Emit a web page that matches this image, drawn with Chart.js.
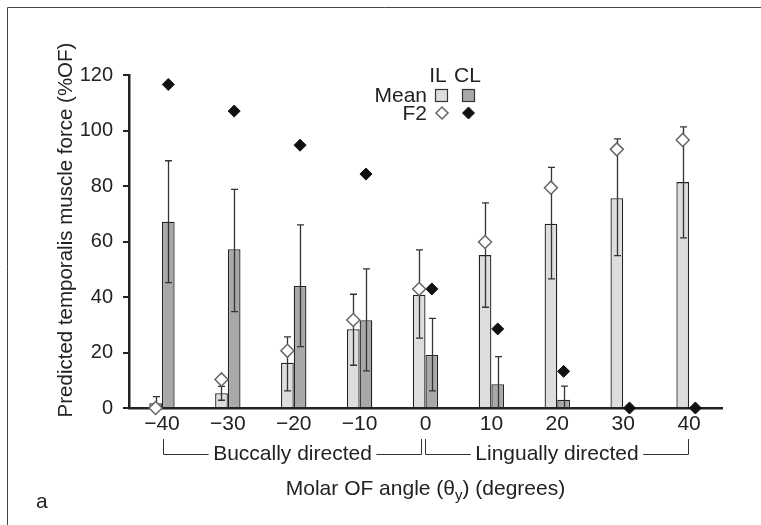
<!DOCTYPE html>
<html>
<head>
<meta charset="utf-8">
<script src="https://cdn.jsdelivr.net/npm/chart.js@4.4.1/dist/chart.umd.min.js"></script>
<style>
  html, body { margin: 0; padding: 0; background: #fff; }
  #wrap { width: 761px; height: 525px; }
  canvas { background: #fff; }
</style>
</head>
<body>
<div id="wrap"><canvas id="myChart" width="761" height="525"></canvas></div>
<script>
const angles = [-40, -30, -20, -10, 0, 10, 20, 30, 40]
const yTicks = [0, 20, 40, 60, 80, 100, 120]

// mean predicted force, ipsilateral / contralateral
const meanIL = [1.7, 5.3, 16.3, 28.4, 40.7, 55.1, 66.4, 75.6, 81.4]
const meanCL = [67.1, 57.2, 44.0, 31.6, 19.1, 8.6, 3.0, 0, 0]
// error bar ends (lo 0 = runs down to the axis, no cap)
const hiIL = [4.1, 7.8, 25.6, 41.0, 57.0, 73.9, 86.7, 97.0, 101.3]
const loIL = [0, 2.8, 6.2, 15.4, 25.2, 36.3, 46.5, 54.9, 61.3]
const hiCL = [89.1, 78.8, 66.0, 50.1, 32.3, 18.5, 7.9, null, null]
const loCL = [45.2, 34.7, 22.1, 13.4, 6.2, 0, 0, null, null]
// F2 model
const f2IL = [0, 10.3, 20.6, 31.7, 42.9, 59.8, 79.4, 93.2, 96.6]
const f2CL = [116.6, 107.0, 94.7, 84.3, 42.9, 28.5, 13.2, 0, 0]

const FONT = '"Liberation Sans", Arial, Helvetica, sans-serif'
const ink = '#222'
const fillIL = '#dcdddf'
const fillCL = '#a7a8aa'

const ctx = document.querySelector('#myChart')

const fmt = v => (v < 0 ? '\u2212' + Math.abs(v) : String(v))

function diamond(c, x, y, r, fill, stroke, lw) {
    c.beginPath()
    c.moveTo(x, y - r)
    c.lineTo(x + r, y)
    c.lineTo(x, y + r)
    c.lineTo(x - r, y)
    c.closePath()
    c.fillStyle = fill
    c.fill()
    c.lineWidth = lw
    c.strokeStyle = stroke
    c.stroke()
}

function bracket(c, x1, x2, label) {
    const yTop = 439, yBot = 454.5
    const cx = (x1 + x2) / 2
    c.font = `21px ${FONT}`
    const w = c.measureText(label).width
    c.beginPath()
    c.moveTo(x1, yTop); c.lineTo(x1, yBot); c.lineTo(cx - w / 2 - 4.5, yBot)
    c.moveTo(cx + w / 2 + 4.5, yBot); c.lineTo(x2, yBot); c.lineTo(x2, yTop)
    c.stroke()
    c.textAlign = 'center'
    c.fillText(label, cx, 460)
}

const extras = {
    id: 'extras',
    afterDatasetsUpdate(chart) {
        // sit each F2 marker on its own bar
        [[0, 2], [1, 3]].forEach(([p, b]) => {
            const bars = chart.getDatasetMeta(b).data
            chart.getDatasetMeta(p).data.forEach((pt, i) => { pt.x = bars[i].x })
        })
    },
    afterDatasetDraw(chart, args) {
        const ds = chart.data.datasets[args.index]
        if (!ds.hi) return
        const c = chart.ctx, y = chart.scales.y
        c.save()
        c.strokeStyle = '#333'
        c.lineWidth = 1.3
        args.meta.data.forEach((bar, i) => {
            if (ds.hi[i] == null) return
            const x = Math.round(bar.x) + 0.5
            const yh = y.getPixelForValue(ds.hi[i])
            const yl = y.getPixelForValue(ds.lo[i])
            c.beginPath()
            c.moveTo(x, yh); c.lineTo(x, yl)
            c.moveTo(x - 3.5, yh); c.lineTo(x + 3.5, yh)
            if (ds.lo[i] > 0) { c.moveTo(x - 3.5, yl); c.lineTo(x + 3.5, yl) }
            c.stroke()
        })
        c.restore()
    },
    afterDraw(chart) {
        const c = chart.ctx
        const area = chart.chartArea
        const xs = chart.scales.x
        c.save()

        // frame
        c.strokeStyle = '#444'
        c.lineWidth = 1
        c.beginPath()
        c.moveTo(7.5, 525); c.lineTo(7.5, 7.5); c.lineTo(761, 7.5)
        c.stroke()

        c.fillStyle = ink
        c.textBaseline = 'alphabetic'

        // legend
        c.font = `21px ${FONT}`
        c.textAlign = 'center'
        c.fillText('IL', 438, 82)
        c.fillText('CL', 467.5, 82)
        c.textAlign = 'right'
        c.fillText('Mean', 427, 101.5)
        c.fillText('F2', 427, 120)
        c.lineWidth = 1.2
        c.strokeStyle = '#333'
        c.fillStyle = fillIL
        c.fillRect(435.5, 89.5, 12, 12)
        c.strokeRect(435.5, 89.5, 12, 12)
        c.fillStyle = fillCL
        c.fillRect(462.5, 89.5, 12, 12)
        c.strokeRect(462.5, 89.5, 12, 12)
        diamond(c, 442, 113, 6, '#fff', '#666', 1.5)
        diamond(c, 468.5, 113, 6, '#111', '#111', 1)

        // y title
        c.fillStyle = ink
        c.save()
        c.translate(72, 230)
        c.rotate(-Math.PI / 2)
        c.textAlign = 'center'
        c.font = `20.5px ${FONT}`
        c.fillText('Predicted temporalis muscle force (%OF)', 0, 0)
        c.restore()

        // x title with subscript
        const parts = [['Molar OF angle (\u03b8', 21, 0], ['y', 15, 5], [') (degrees)', 21, 0]]
        let total = 0
        parts.forEach(p => { c.font = `${p[1]}px ${FONT}`; p.push(c.measureText(p[0]).width); total += p[3] })
        let tx = (area.left + area.right) / 2 - total / 2
        c.textAlign = 'left'
        parts.forEach(p => {
            c.font = `${p[1]}px ${FONT}`
            c.fillText(p[0], tx, 494.5 + p[2])
            tx += p[3]
        })

        // direction brackets
        c.strokeStyle = '#333'
        c.lineWidth = 1
        const px = i => Math.round(xs.getPixelForValue(i)) + 0.5
        bracket(c, px(0) + 1, px(4) - 5, 'Buccally directed')
        bracket(c, px(4) - 1, px(8) - 1, 'Lingually directed')

        // panel letter
        c.textAlign = 'left'
        c.font = `21px ${FONT}`
        c.fillText('a', 36, 508)

        c.restore()
    }
}

new Chart(ctx, {
    type: 'bar',
    data: {
        labels: angles,
        datasets: [
            {
                type: 'line', label: 'F2 IL', data: f2IL, showLine: false,
                pointStyle: 'rectRot', pointRadius: 6.5, pointBackgroundColor: '#fff',
                pointBorderColor: '#666', pointBorderWidth: 1.5, clip: false, order: 0
            },
            {
                type: 'line', label: 'F2 CL', data: f2CL, showLine: false,
                pointStyle: 'rectRot', pointRadius: 6, pointBackgroundColor: '#111',
                pointBorderColor: '#111', pointBorderWidth: 1, clip: false, order: 0
            },
            {
                label: 'Mean IL', data: meanIL, hi: hiIL, lo: loIL,
                backgroundColor: fillIL, borderColor: ink, borderWidth: 1.3, order: 1
            },
            {
                label: 'Mean CL', data: meanCL, hi: hiCL, lo: loCL,
                backgroundColor: fillCL, borderColor: ink, borderWidth: 1.3, order: 1
            }
        ]
    },
    options: {
        responsive: false,
        animation: false,
        layout: { padding: { left: 0, right: 39, top: 75, bottom: 0 } },
        datasets: { bar: { categoryPercentage: 0.385, barPercentage: 1 } },
        plugins: { legend: { display: false }, tooltip: { enabled: false } },
        scales: {
            x: {
                afterFit: s => { s.height = 117 },
                ticks: {
                    font: { family: FONT, size: 21 }, color: ink, padding: -4,
                    callback: (v, i) => fmt(angles[i])
                },
                grid: { display: false },
                border: { color: ink, width: 2.5 },
                z: 1
            },
            y: {
                min: 0,
                max: 120,
                afterFit: s => { s.width = 129 },
                afterBuildTicks: s => { s.ticks = yTicks.map(v => ({ value: v })) },
                ticks: { font: { family: FONT, size: 20 }, color: ink, padding: 10 },
                grid: { drawOnChartArea: false, color: ink, lineWidth: 2, tickLength: 6 },
                border: { color: ink, width: 2.5 }
            }
        }
    },
    plugins: [extras]
})
</script>
</body>
</html>
